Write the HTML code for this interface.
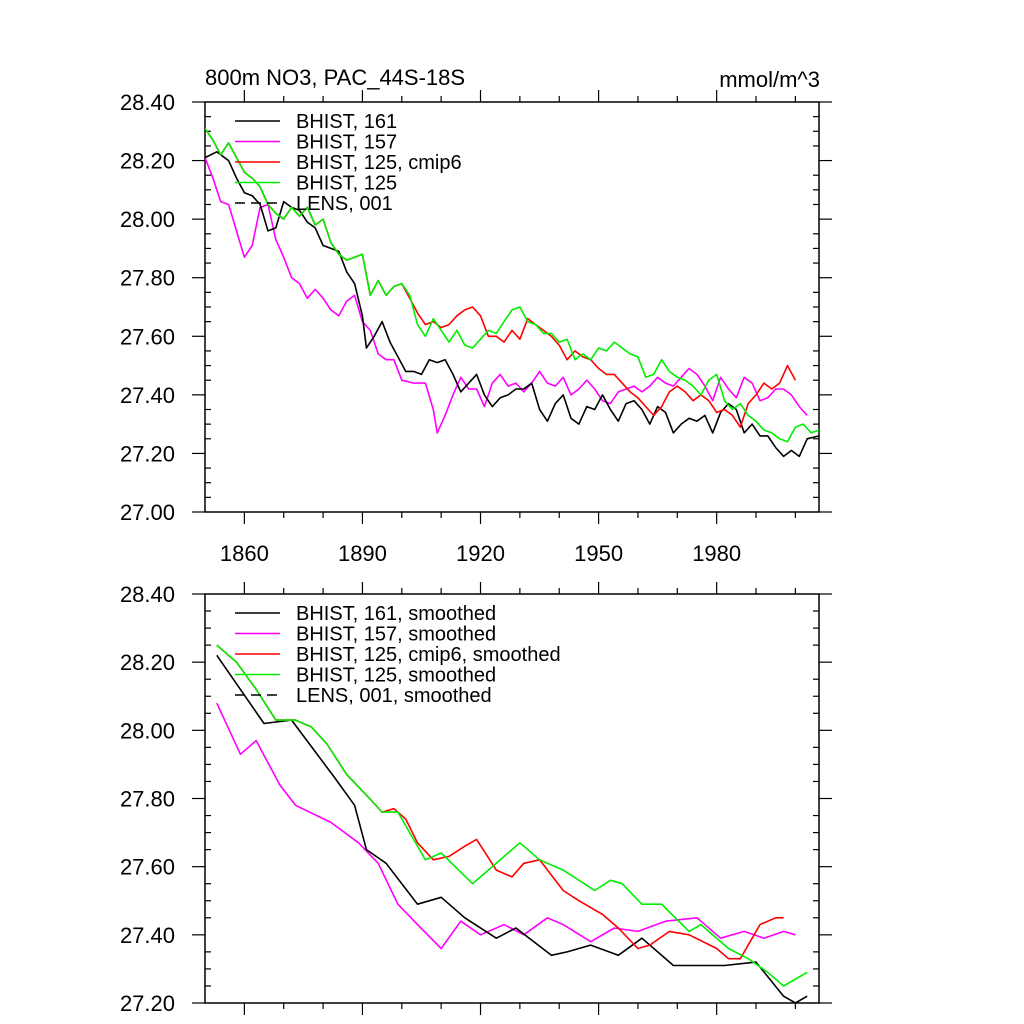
<!DOCTYPE html>
<html><head><meta charset="utf-8">
<style>
html,body{margin:0;padding:0;background:#fff;}
svg{display:block;font-family:"Liberation Sans",Arial,sans-serif;}
</style></head>
<body>
<svg id="chart" width="1024" height="1024" viewBox="0 0 1024 1024" xmlns="http://www.w3.org/2000/svg"></svg>
<script>
// ---- Top panel data (annual) ----
const topBlackYears = [1850,1853,1856,1858,1860,1862,1864,1866,1868,1870,1872,1874,1876,1878,1880,1882,1884,1886,1888,1890,1891,1893,1895,1897,1899,1901,1903,1905,1907,1909,1911,1913,1915,1917,1919,1921,1923,1925,1927,1929,1931,1933,1935,1937,1939,1941,1943,1945,1947,1949,1951,1953,1955,1957,1959,1961,1963,1965,1967,1969,1971,1973,1975,1977,1979,1981,1983,1985,1987,1989,1991,1993,1995,1997,1999,2001,2003,2006];
const topBlackVals = [28.21,28.23,28.20,28.14,28.09,28.08,28.05,27.96,27.97,28.06,28.04,28.03,27.99,27.97,27.91,27.90,27.89,27.82,27.78,27.67,27.56,27.60,27.65,27.58,27.53,27.48,27.48,27.47,27.52,27.51,27.52,27.47,27.41,27.44,27.47,27.40,27.36,27.39,27.40,27.42,27.42,27.44,27.35,27.31,27.37,27.40,27.32,27.30,27.36,27.35,27.40,27.35,27.31,27.37,27.38,27.35,27.30,27.36,27.34,27.27,27.30,27.32,27.31,27.33,27.27,27.34,27.37,27.35,27.27,27.30,27.26,27.26,27.22,27.19,27.21,27.19,27.25,27.26];
const topMagYears = [1850,1852,1854,1856,1858,1860,1862,1864,1866,1868,1870,1872,1874,1876,1878,1880,1882,1884,1886,1888,1890,1892,1894,1896,1898,1900,1903,1906,1908,1909,1911,1913,1915,1917,1919,1921,1923,1925,1927,1929,1931,1933,1935,1937,1939,1941,1943,1945,1947,1949,1951,1953,1955,1957,1959,1961,1963,1965,1967,1969,1971,1973,1975,1977,1979,1981,1983,1985,1987,1989,1991,1993,1995,1997,1999,2001,2003];
const topMagVals = [28.21,28.14,28.06,28.05,27.96,27.87,27.91,28.04,28.05,27.93,27.87,27.80,27.78,27.73,27.76,27.73,27.69,27.67,27.72,27.74,27.65,27.62,27.54,27.52,27.52,27.45,27.44,27.44,27.35,27.27,27.33,27.40,27.46,27.42,27.42,27.36,27.44,27.47,27.43,27.44,27.41,27.44,27.48,27.44,27.43,27.46,27.40,27.42,27.45,27.42,27.38,27.37,27.41,27.42,27.43,27.41,27.43,27.46,27.44,27.43,27.46,27.49,27.47,27.43,27.38,27.46,27.42,27.39,27.46,27.44,27.38,27.39,27.42,27.42,27.40,27.36,27.33];
const topGreenYears = [1850,1852,1854,1856,1858,1860,1862,1864,1866,1868,1870,1872,1874,1876,1878,1880,1882,1884,1886,1888,1890,1892,1894,1896,1898,1900,1902,1904,1906,1908,1910,1912,1914,1916,1918,1920,1922,1924,1926,1928,1930,1932,1934,1936,1938,1940,1942,1944,1946,1948,1950,1952,1954,1956,1958,1960,1962,1964,1966,1968,1970,1972,1974,1976,1978,1980,1982,1984,1986,1988,1990,1992,1994,1996,1998,2000,2002,2004,2006];
const topGreenVals = [28.31,28.27,28.22,28.26,28.21,28.16,28.14,28.11,28.05,28.02,28.00,28.04,28.01,28.04,27.98,28.00,27.92,27.88,27.86,27.87,27.88,27.74,27.79,27.74,27.77,27.78,27.74,27.64,27.60,27.66,27.62,27.58,27.62,27.57,27.56,27.59,27.62,27.61,27.65,27.69,27.70,27.65,27.64,27.61,27.61,27.58,27.59,27.52,27.54,27.52,27.56,27.55,27.58,27.56,27.54,27.53,27.46,27.47,27.52,27.48,27.46,27.45,27.43,27.40,27.45,27.47,27.38,27.35,27.37,27.33,27.31,27.28,27.27,27.25,27.24,27.29,27.30,27.27,27.28];
const topRedYears = [1850,1852,1854,1856,1858,1860,1862,1864,1866,1868,1870,1872,1874,1876,1878,1880,1882,1884,1886,1888,1890,1892,1894,1896,1898,1900,1902,1904,1906,1908,1910,1912,1914,1916,1918,1920,1922,1924,1926,1928,1930,1932,1934,1936,1938,1940,1942,1944,1946,1948,1950,1952,1954,1956,1958,1960,1962,1964,1966,1968,1970,1972,1974,1976,1978,1980,1982,1984,1986,1988,1990,1992,1994,1996,1998,2000];
const topRedVals = [28.31,28.27,28.22,28.26,28.21,28.16,28.14,28.11,28.05,28.02,28.00,28.04,28.01,28.04,27.98,28.00,27.92,27.88,27.86,27.87,27.88,27.74,27.79,27.74,27.77,27.78,27.73,27.68,27.64,27.65,27.63,27.64,27.67,27.69,27.70,27.67,27.60,27.60,27.58,27.62,27.59,27.66,27.64,27.62,27.60,27.57,27.52,27.55,27.53,27.52,27.49,27.47,27.47,27.44,27.41,27.39,27.36,27.33,27.36,27.41,27.43,27.41,27.38,27.40,27.38,27.34,27.35,27.33,27.29,27.37,27.40,27.44,27.42,27.44,27.50,27.45];

// ---- Bottom panel data (smoothed) ----
const botBlackYears = [1853,1865,1872,1883,1888,1891,1896,1904,1910,1916,1924,1929,1938,1942,1948,1955,1961,1969,1982,1990,1997,2000,2003];
const botBlackVals = [28.22,28.02,28.03,27.86,27.78,27.65,27.61,27.49,27.51,27.45,27.39,27.42,27.34,27.35,27.37,27.34,27.39,27.31,27.31,27.32,27.22,27.20,27.22];
const botMagYears = [1853,1859,1863,1869,1873,1882,1889,1894,1899,1904,1910,1915,1920,1926,1931,1937,1941,1948,1954,1960,1967,1975,1981,1987,1992,1997,2000];
const botMagVals = [28.08,27.93,27.97,27.84,27.78,27.73,27.67,27.61,27.49,27.43,27.36,27.44,27.40,27.43,27.40,27.45,27.43,27.38,27.42,27.41,27.44,27.45,27.39,27.41,27.39,27.41,27.40];
const botGreenYears = [1853,1858,1863,1868,1873,1877,1881,1886,1891,1895,1899,1903,1906,1910,1918,1921,1930,1935,1941,1949,1953,1956,1961,1966,1973,1976,1983,1988,1993,1997,2003];
const botGreenVals = [28.25,28.20,28.12,28.03,28.03,28.01,27.96,27.87,27.81,27.76,27.76,27.68,27.62,27.64,27.55,27.58,27.67,27.62,27.59,27.53,27.56,27.55,27.49,27.49,27.41,27.43,27.36,27.33,27.29,27.25,27.29];
const botRedYears = [1853,1858,1863,1868,1873,1877,1881,1886,1891,1895,1898,1901,1904,1908,1912,1916,1919,1924,1928,1931,1935,1941,1945,1951,1955,1960,1963,1968,1973,1980,1983,1986,1991,1995,1997];
const botRedVals = [28.25,28.20,28.12,28.03,28.03,28.01,27.96,27.87,27.81,27.76,27.77,27.74,27.67,27.62,27.63,27.66,27.68,27.59,27.57,27.61,27.62,27.53,27.50,27.46,27.42,27.36,27.37,27.41,27.40,27.36,27.33,27.33,27.43,27.45,27.45];

const yTicksTop = [28.40,28.20,28.00,27.80,27.60,27.40,27.20,27.00];
const yTicksBot = [28.40,28.20,28.00,27.80,27.60,27.40,27.20];
const xTicks = [1860,1890,1920,1950,1980];
const legendTop = ["BHIST, 161","BHIST, 157","BHIST, 125, cmip6","BHIST, 125","LENS, 001"];
const legendBot = ["BHIST, 161, smoothed","BHIST, 157, smoothed","BHIST, 125, cmip6, smoothed","BHIST, 125, smoothed","LENS, 001, smoothed"];

const NS = "http://www.w3.org/2000/svg";
const svg = document.getElementById('chart');
const X0 = 205, X1 = 819, YR0 = 1850, YR1 = 2006;
function xS(yr){ return X0 + (yr - YR0) / (YR1 - YR0) * (X1 - X0); }

function mk(tag, attrs, parent){
  const e = document.createElementNS(NS, tag);
  for (const k in attrs) e.setAttribute(k, attrs[k]);
  (parent || svg).appendChild(e);
  return e;
}

function panel(pname, top, bottom, vmax, vmin, yTicks, series, legend, legY, showXLabels){
  const g = mk('g', {});
  
  
  const yS = v => top + (vmax - v) / (vmax - vmin) * (bottom - top);
  const frame = mk('rect', {x:X0, y:top, width:X1-X0, height:bottom-top, fill:'none', stroke:'#000', 'stroke-width':1.5}, g);
  
  
  const yAxis = mk('g', {stroke:'#000', 'stroke-width':1.2}, g);
  
  
  for (let v = vmin; v <= vmax + 1e-6; v += 0.05){
    const y = yS(v);
    const major = Math.abs(Math.round(v*100) % 20) < 0.5;
    if (major){
      mk('line', {x1:X0-13, x2:X0, y1:y, y2:y}, yAxis);
      mk('line', {x1:X1, x2:X1+13, y1:y, y2:y}, yAxis);
    } else {
      mk('line', {x1:X0, x2:X0+6, y1:y, y2:y}, yAxis);
      mk('line', {x1:X1-6, x2:X1, y1:y, y2:y}, yAxis);
    }
  }
  yTicks.forEach(v => {
    const t = mk('text', {x:X0-30, y:yS(v)+8, 'text-anchor':'end', 'font-size':22, fill:'#000'}, g);
    t.textContent = v.toFixed(2);
    
    
  });
  const xAxis = mk('g', {stroke:'#000', 'stroke-width':1.2}, g);
  
  
  for (let yr = 1860; yr <= 2000; yr += 10){
    const x = xS(yr);
    const major = (yr - 1860) % 30 === 0;
    const L = major ? 12 : 6;
    mk('line', {x1:x, x2:x, y1:bottom, y2:bottom+L}, xAxis);
    mk('line', {x1:x, x2:x, y1:top-L, y2:top}, xAxis);
  }
  if (showXLabels){
    xTicks.forEach(yr => {
      const t = mk('text', {x:xS(yr), y:bottom+49, 'text-anchor':'middle', 'font-size':22, fill:'#000'}, g);
      t.textContent = yr;
      
      
    });
  }
  const clipId = pname + '-clip';
  const cp = mk('clipPath', {id:clipId}, g);
  mk('rect', {x:X0, y:top, width:X1-X0, height:bottom-top}, cp);
  series.forEach(s => {
    const d = s.years.map((yr,i) => (i?'L':'M') + xS(yr).toFixed(1) + ',' + yS(s.vals[i]).toFixed(1)).join(' ');
    const p = mk('path', {d:d, fill:'none', stroke:s.color, 'stroke-width':1.6, 'stroke-linejoin':'round', 'clip-path':'url(#'+clipId+')'}, g);
    
    
  });
  const colors = ['#000','#ff00ff','#ff0000','#00ee00','#000'];
  const lg = mk('g', {}, g);
  
  
  legend.forEach((lab, i) => {
    const y = legY + i * 20.5;
    const ln = mk('line', {x1:235, x2:280, y1:y, y2:y, stroke:colors[i], 'stroke-width':1.4}, lg);
    if (i === 4) ln.setAttribute('stroke-dasharray', '10,6');
    
    
    const t = mk('text', {x:296, y:y+7, 'font-size':20, fill:'#000'}, lg);
    t.textContent = lab;
    
    
  });
}

panel('top-panel', 102, 512, 28.40, 27.00, yTicksTop, [
  {name:'series-bhist-157', color:'#ff00ff', years:topMagYears, vals:topMagVals},
  {name:'series-bhist-161', color:'#000', years:topBlackYears, vals:topBlackVals},
  {name:'series-bhist-125-cmip6', color:'#ff0000', years:topRedYears, vals:topRedVals},
  {name:'series-bhist-125', color:'#00ee00', years:topGreenYears, vals:topGreenVals}
], legendTop, 121, true);

panel('bottom-panel', 594, 1003, 28.40, 27.20, yTicksBot, [
  {name:'series-bhist-157-smoothed', color:'#ff00ff', years:botMagYears, vals:botMagVals},
  {name:'series-bhist-161-smoothed', color:'#000', years:botBlackYears, vals:botBlackVals},
  {name:'series-bhist-125-cmip6-smoothed', color:'#ff0000', years:botRedYears, vals:botRedVals},
  {name:'series-bhist-125-smoothed', color:'#00ee00', years:botGreenYears, vals:botGreenVals}
], legendBot, 613, false);

const title = mk('text', {x:205, y:85, 'font-size':22, fill:'#000'});
title.textContent = '800m NO3, PAC_44S-18S';


const units = mk('text', {x:820, y:87, 'text-anchor':'end', 'font-size':22, fill:'#000'});
units.textContent = 'mmol/m^3';


</script>
</body></html>
